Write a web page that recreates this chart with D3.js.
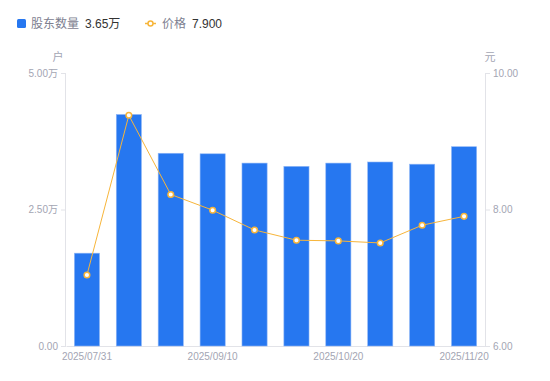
<!DOCTYPE html>
<html>
<head>
<meta charset="utf-8">
<script src="https://cdn.jsdelivr.net/npm/d3@7"></script>
<style>
  body { margin: 0; background: #fff; }
  svg text { font-family: "Liberation Sans", "Noto Sans CJK SC", sans-serif; }
</style>
</head>
<body>
<div id="chart"></div>
<script>
// data
const dates = ["2025/07/31", "2025/08/15", "2025/08/31", "2025/09/10", "2025/09/20",
               "2025/09/30", "2025/10/20", "2025/10/31", "2025/11/10", "2025/11/20"];
const holders = [1.70, 4.24, 3.53, 3.52, 3.35, 3.29, 3.35, 3.37, 3.33, 3.65]; // 万户
const prices = [7.04, 9.38, 8.22, 7.99, 7.70, 7.55, 7.54, 7.51, 7.77, 7.90];
const leftTicks = [0, 2.5, 5];
const rightTicks = [6, 8, 10];
const shownDates = ["2025/07/31", "2025/09/10", "2025/10/20", "2025/11/20"];

const width = 550, height = 381;
const margin = {top: 73, right: 65, bottom: 35, left: 66};

const svg = d3.select("#chart")
    .append("svg")
    .attr("width", width)
    .attr("height", height)
;

const x = d3.scaleBand()
    .domain(dates)
    .range([margin.left, width - margin.right])
    .paddingInner(0.4)
    .paddingOuter(0.2)
;

const yL = d3.scaleLinear().domain([0, 5]).range([height - margin.bottom, margin.top]);
const yR = d3.scaleLinear().domain([6, 10]).range([height - margin.bottom, margin.top]);

const axisColor = "#e2e3e8";
const labelColor = "#a3a5b3";

// axes
const leftAxis = svg.append("g")
    .attr("transform", `translate(${margin.left},0)`)
    .call(d3.axisLeft(yL).tickValues(leftTicks).tickSize(5).tickPadding(3)
        .tickFormat(d => d === 0 ? "0.00" : d.toFixed(2) + "万"))
;
const rightAxis = svg.append("g")
    .attr("transform", `translate(${width - margin.right},0)`)
    .call(d3.axisRight(yR).tickValues(rightTicks).tickSize(5).tickPadding(3)
        .tickFormat(d => d.toFixed(2)))
;
const bottomAxis = svg.append("g")
    .attr("transform", `translate(0,${height - margin.bottom})`)
    .call(d3.axisBottom(x).tickValues(shownDates).tickSize(0).tickPadding(7))
;

[leftAxis, rightAxis, bottomAxis].forEach(a => {
    a.select(".domain").attr("stroke", axisColor).attr("stroke-width", 1);
    a.selectAll(".tick line").attr("stroke", axisColor);
    a.selectAll(".tick text").attr("fill", labelColor).style("font-size", "10px");
});
leftAxis.select(".domain").attr("d", `M-0.5,${yL(5)}V${yL(0)}`);
rightAxis.select(".domain").attr("d", `M0.5,${yR(10)}V${yR(6)}`);

// unit labels
svg.append("text").attr("x", 58).attr("y", 61).attr("text-anchor", "middle")
    .attr("fill", labelColor).style("font-size", "11px").text("户");
svg.append("text").attr("x", 490).attr("y", 61).attr("text-anchor", "middle")
    .attr("fill", labelColor).style("font-size", "11px").text("元");

// bars
svg.append("g")
    .selectAll("rect")
    .data(holders)
    .join("rect")
    .attr("x", (d, i) => x(dates[i]))
    .attr("y", d => yL(d))
    .attr("width", x.bandwidth())
    .attr("height", d => yL(0) - yL(d))
    .attr("fill", "#2677f0")
    .attr("stroke", "#8fb6f6")
    .attr("stroke-width", 0.6)
;

// price line
const line = d3.line()
    .x((d, i) => x(dates[i]) + x.bandwidth() / 2)
    .y(d => yR(d))
;
svg.append("path")
    .datum(prices)
    .attr("d", line)
    .attr("fill", "none")
    .attr("stroke", "#f7b53a")
    .attr("stroke-width", 1)
;
svg.append("g")
    .selectAll("circle")
    .data(prices)
    .join("circle")
    .attr("cx", (d, i) => x(dates[i]) + x.bandwidth() / 2)
    .attr("cy", d => yR(d))
    .attr("r", 2.8)
    .attr("fill", "#fff")
    .attr("stroke", "#f7b53a")
    .attr("stroke-width", 1.5)
;

// legend
const legend = svg.append("g").style("font-size", "12px");
legend.append("rect").attr("x", 17).attr("y", 19).attr("width", 9).attr("height", 9)
    .attr("rx", 1.5).attr("fill", "#2677f0");
legend.append("text").attr("x", 31).attr("y", 28).attr("fill", "#7d8090").text("股东数量");
legend.append("text").attr("x", 85).attr("y", 28).attr("fill", "#333").text("3.65万");
legend.append("line").attr("x1", 145).attr("x2", 156).attr("y1", 23.5).attr("y2", 23.5)
    .attr("stroke", "#f7b53a").attr("stroke-width", 1.5);
legend.append("circle").attr("cx", 150.5).attr("cy", 23.5).attr("r", 2.5)
    .attr("fill", "#fff").attr("stroke", "#f7b53a").attr("stroke-width", 1.5);
legend.append("text").attr("x", 162).attr("y", 28).attr("fill", "#7d8090").text("价格");
legend.append("text").attr("x", 192).attr("y", 28).attr("fill", "#333").text("7.900");
</script>
</body>
</html>
